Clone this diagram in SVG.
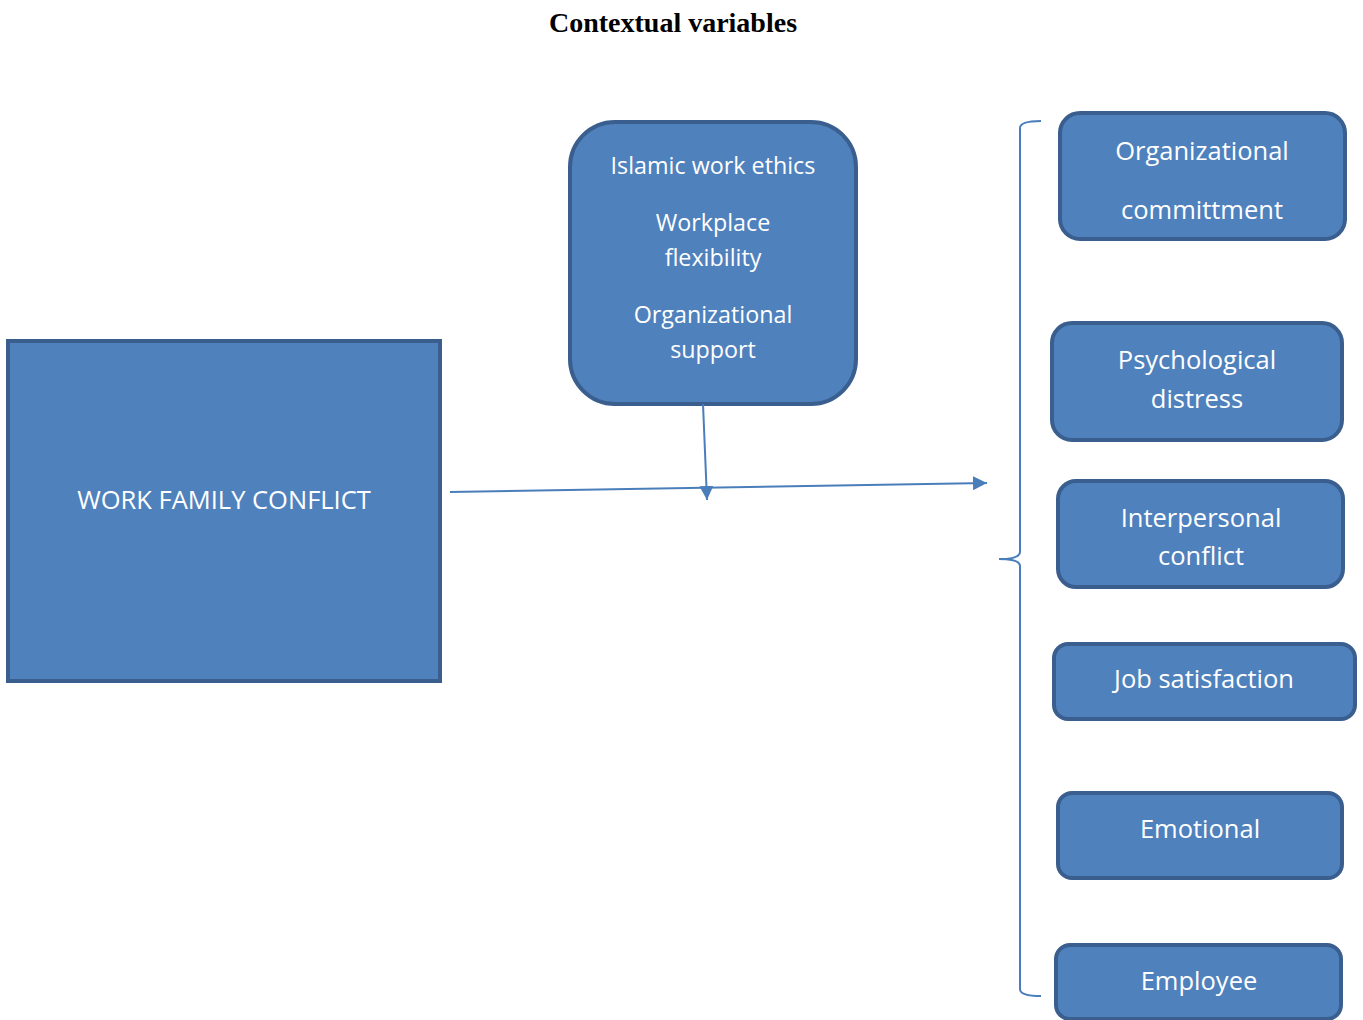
<svg xmlns="http://www.w3.org/2000/svg" width="1363" height="1020" viewBox="0 0 1363 1020">
<defs>
<style>
.box{fill:#4F81BD;stroke:#3A5F8F;stroke-width:4}
.t{font-family:"Open Sans","Noto Sans",sans-serif;font-size:25.5px;fill:#FFFFFF;text-anchor:middle}
.s{font-size:23.3px}
.title{font-family:"Liberation Serif","DejaVu Serif",serif;font-weight:bold;font-size:28px;fill:#000;text-anchor:middle}
.c{stroke:#4A7EBB;stroke-width:2;fill:none}
</style>
<marker id="ah2" viewBox="0 0 10 10" refX="10" refY="5" markerWidth="14" markerHeight="14" markerUnits="userSpaceOnUse" orient="auto">
<path d="M0,0 L10,5 L0,10 z" fill="#4A7EBB"/>
</marker>
</defs>
<rect width="1363" height="1020" fill="#FFFFFF"/>
<text class="title" x="673" y="32">Contextual variables</text>

<g id="wfc">
<rect class="box" x="8" y="341" width="432" height="340"/>
<text class="t" x="224" y="509">WORK FAMILY CONFLICT</text>
</g>

<g id="contextual">
<rect class="box" x="570" y="122" width="286" height="282" rx="45"/>
<text class="t s" x="713" y="174">Islamic work ethics</text>
<text class="t s" x="713" y="231">Workplace</text>
<text class="t s" x="713" y="266">flexibility</text>
<text class="t s" x="713" y="323">Organizational</text>
<text class="t s" x="713" y="358">support</text>
</g>

<g id="org-commitment">
<rect class="box" x="1060" y="113" width="285" height="126" rx="20"/>
<text class="t" x="1202" y="160">Organizational</text>
<text class="t" x="1202" y="219">committment</text>
</g>

<g id="psych">
<rect class="box" x="1052" y="323" width="290" height="117" rx="20"/>
<text class="t" x="1197" y="369">Psychological</text>
<text class="t" x="1197" y="408">distress</text>
</g>

<g id="interpersonal">
<rect class="box" x="1058" y="481" width="285" height="106" rx="18"/>
<text class="t" x="1201" y="527">Interpersonal</text>
<text class="t" x="1201" y="565">conflict</text>
</g>

<g id="job">
<rect class="box" x="1054" y="644" width="301" height="75" rx="14"/>
<text class="t" x="1204" y="688">Job satisfaction</text>
</g>

<g id="emotional">
<rect class="box" x="1058" y="793" width="284" height="85" rx="14"/>
<text class="t" x="1200" y="838">Emotional</text>
</g>

<g id="employee">
<rect class="box" x="1056" y="945" width="285" height="74" rx="14"/>
<text class="t" x="1199" y="990">Employee</text>
</g>

<g id="connectors">
<line class="c" x1="450" y1="492" x2="987" y2="483" marker-end="url(#ah2)"/>
<line class="c" x1="703" y1="404" x2="707" y2="500" marker-end="url(#ah2)"/>
<path class="c" d="M1041,121 Q1020,121 1020,128 L1020,552 Q1020,559 999,559 Q1020,559 1020,566 L1020,989 Q1020,996 1041,996"/>
</g>
</svg>
